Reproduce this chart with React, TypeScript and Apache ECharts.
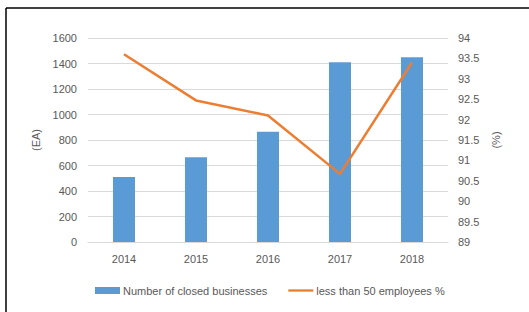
import React, { useEffect, useRef } from "react";
import * as echarts from "echarts";

const years = ["2014", "2015", "2016", "2017", "2018"];
const closedBusinesses = [510, 665, 865, 1410, 1450];
const lessThan50Pct = [93.6, 92.47, 92.1, 90.67, 93.4];

const leftName = "Number of closed businesses";
const rightName = "less than 50 employees %";

export default function App() {
  const ref = useRef<HTMLDivElement>(null);
  useEffect(() => {
    if (!ref.current) return;
    const chart = echarts.init(ref.current, null, { renderer: "svg" });
    const font = "'Liberation Sans', Arial, sans-serif";
    const txt = { color: "#595959", fontSize: 11, fontFamily: font };
    chart.setOption({
      animation: false,
      backgroundColor: "#ffffff",
      textStyle: { fontFamily: font },
      grid: { left: 88, right: 81, top: 38, bottom: 70 },
      graphic: [
        { type: "line", shape: { x1: 6, y1: 8, x2: 529, y2: 8 }, style: { stroke: "#000", lineWidth: 1.5 } },
        { type: "line", shape: { x1: 6, y1: 8, x2: 6, y2: 312 }, style: { stroke: "#000", lineWidth: 1.5 } },
      ],
      legend: {
        left: 90,
        top: 280,
        itemGap: 21,
        itemWidth: 25,
        itemHeight: 7,
        textStyle: { ...txt, fontSize: 11, padding: [0, 0, 0, -2] },
        data: [
          { name: leftName, icon: "rect" },
          {
            name: rightName,
            icon: "path://M0,0 M28,7 M0,2.2 L28,2.2 L28,4.8 L0,4.8 Z",
            itemStyle: { color: "#ed7d31" },
          },
        ],
      },
      xAxis: {
        type: "category",
        data: years,
        axisTick: { show: false },
        axisLine: { lineStyle: { color: "#d9d9d9" } },
        axisLabel: { ...txt, margin: 11 },
      },
      yAxis: [
        {
          type: "value",
          min: 0,
          max: 1600,
          interval: 200,
          name: "(EA)",
          nameLocation: "middle",
          nameRotate: 90,
          nameGap: 40,
          nameTextStyle: txt,
          axisLabel: { ...txt, margin: 11, formatter: (v: number) => String(v) },
          splitLine: { lineStyle: { color: "#d9d9d9" } },
          axisLine: { show: false },
          axisTick: { show: false },
        },
        {
          type: "value",
          min: 89,
          max: 94,
          interval: 0.5,
          name: "(%)",
          nameLocation: "middle",
          nameRotate: 90,
          nameGap: 42,
          nameTextStyle: txt,
          axisLabel: { ...txt, margin: 10, formatter: (v: number) => String(v) },
          splitLine: { show: false },
          axisLine: { show: false },
          axisTick: { show: false },
        },
      ],
      series: [
        {
          name: leftName,
          type: "bar",
          data: closedBusinesses,
          barWidth: 22,
          itemStyle: { color: "#5b9bd5" },
          yAxisIndex: 0,
        },
        {
          name: rightName,
          type: "line",
          data: lessThan50Pct,
          yAxisIndex: 1,
          symbol: "none",
          lineStyle: { color: "#ed7d31", width: 2.5 },
          itemStyle: { color: "#ed7d31" },
        },
      ],
    });
    return () => chart.dispose();
  }, []);
  return (
    <div
      ref={ref}
      style={{ position: "absolute", left: 0, top: 0, width: 529, height: 312 }}
    />
  );
}
